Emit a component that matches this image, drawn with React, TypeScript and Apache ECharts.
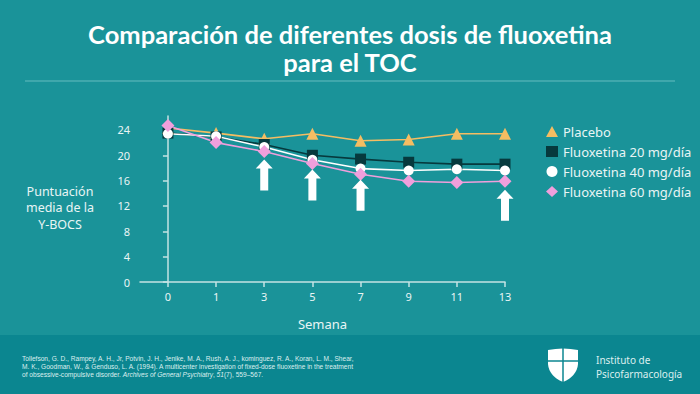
import React, { useEffect, useRef } from "react";
import * as echarts from "echarts";

const weekLabels = ["0", "1", "3", "5", "7", "9", "11", "13"];
const placebo = [24.3, 23.5, 22.6, 23.4, 22.3, 22.5, 23.4, 23.4];
const fluox20 = [23.5, 22.9, 21.7, 20.0, 19.4, 18.9, 18.6, 18.6];
const fluox40 = [23.4, 23.0, 21.3, 19.3, 17.9, 17.6, 17.8, 17.6];
const fluox60 = [24.7, 22.0, 20.6, 18.7, 17.0, 15.9, 15.7, 15.9];
const arrowIdx = [2, 3, 4, 7];
const arrowVals = [16.9, 15.3, 13.7, 12.1];
const yTicks = [0, 4, 8, 12, 16, 20, 24];
const seriesNames = ["Placebo", "Fluoxetina 20 mg/día", "Fluoxetina 40 mg/día", "Fluoxetina 60 mg/día"];

const BG = "#1a9399";
const FOOT = "#0b8690";
const TXT = "#e9f5f5";
const AX = "#c5e3e4";

const SHIELD = "M0,2 Q15,-1 30,2 L30,16 Q29,28 15,34 Q1,28 0,16 Z";
echarts.graphic.registerShape("shield", (echarts.graphic as any).extendPath(SHIELD, {}));

const ARROW = "path://M8.5,0 L17,9 L12.5,9 L12.5,31 L4.5,31 L4.5,9 L0,9 Z";

const toPts = (arr: number[]) => arr.map((v, i) => [i, v]);

export default function App() {
  const ref = useRef<HTMLDivElement>(null);
  useEffect(() => {
    const chart = echarts.init(ref.current!, null, { renderer: "svg" });
    const lineBase = (name: string, data: number[], color: string, symbol: string, size: number) => ({
      name,
      type: "line",
      data: toPts(data),
      symbol,
      symbolSize: size,
      lineStyle: { color, width: 1.6 },
      itemStyle: { color },
      z: 3,
    });
    chart.setOption({
      animation: false,
      backgroundColor: BG,
      textStyle: { fontFamily: "Noto Sans" },
      title: {
        text: "Comparación de diferentes dosis de fluoxetina\npara el TOC",
        left: "center",
        top: 15,
        textStyle: { color: "#ffffff", fontSize: 25.5, fontWeight: "bold", lineHeight: 28, fontFamily: "Lato" },
      },
      grid: { left: 140, right: 195, top: 116, bottom: 112 },
      legend: {
        orient: "vertical",
        left: 541,
        top: 120,
        itemWidth: 12,
        itemHeight: 11,
        itemGap: 7,
        textStyle: { color: TXT, fontSize: 13, fontFamily: "Noto Sans" },
        data: [
          { name: seriesNames[0], icon: "triangle" },
          { name: seriesNames[1], icon: "rect" },
          { name: seriesNames[2], icon: "circle" },
          { name: seriesNames[3], icon: "diamond" },
        ],
      },
      xAxis: {
        type: "value",
        min: -0.58,
        max: 7,
        splitLine: { show: false },
        axisLine: { show: true, lineStyle: { color: AX, width: 1.5 } },
        axisTick: { show: true, length: 5, customValues: [0, 1, 2, 3, 4, 5, 6, 7], lineStyle: { color: AX, width: 1.5 } },
        axisLabel: {
          customValues: [0, 1, 2, 3, 4, 5, 6, 7],
          formatter: (v: number) => weekLabels[Math.round(v)] ?? "",
          color: TXT,
          fontSize: 11,
          margin: 9,
        },
        name: "Semana",
        nameLocation: "middle",
        nameGap: 35,
        nameTextStyle: { color: TXT, fontSize: 13 },
      },
      yAxis: {
        type: "value",
        min: 0,
        max: 26.2,
        splitLine: { show: false },
        axisLine: { show: true, lineStyle: { color: AX, width: 1.5 } },
        axisTick: { show: true, length: 5, customValues: yTicks, lineStyle: { color: AX, width: 1.5 } },
        axisLabel: { customValues: yTicks, color: TXT, fontSize: 11, margin: 10 },
      },
      series: [
        lineBase(seriesNames[0], placebo, "#f5bd62", "triangle", 12),
        lineBase(seriesNames[1], fluox20, "#06393d", "rect", 11),
        lineBase(seriesNames[2], fluox40, "#ffffff", "circle", 10),
        lineBase(seriesNames[3], fluox60, "#f09fdc", "diamond", 13),
        {
          name: "arrows",
          type: "scatter",
          data: arrowIdx.map((i, k) => [i, arrowVals[k]]),
          symbol: ARROW,
          symbolSize: [17, 31],
          itemStyle: { color: "#ffffff", opacity: 1 },
          z: 5,
        },
      ],
      graphic: [
        { type: "line", shape: { x1: 25, y1: 81, x2: 675, y2: 81 }, style: { stroke: "#64bcbf", lineWidth: 1 } },
        {
          type: "text",
          x: 60,
          y: 183,
          style: {
            text: "Puntuación\nmedia de la\nY-BOCS",
            fill: TXT,
            font: "12.5px 'Noto Sans'",
            textAlign: "center",
            lineHeight: 16.5,
          },
        },
        { type: "rect", shape: { x: 0, y: 335, width: 700, height: 59 }, style: { fill: FOOT }, z: -1 },
        {
          type: "text",
          x: 22,
          y: 354,
          style: {
            text:
              "Tollefson, G. D., Rampey, A. H., Jr, Potvin, J. H., Jenike, M. A., Rush, A. J., kominguez, R. A., Koran, L. M., Shear,\n" +
              "M. K., Goodman, W., & Genduso, L. A. (1994). A multicenter investigation of fixed-dose fluoxetine in the treatment\n" +
              "of obsessive-compulsive disorder. {i|Archives of General Psychiatry}, {i|51}(7), 559–567.",
            fill: "#dcefef",
            font: "6.6px 'Liberation Sans'",
            lineHeight: 8,
            rich: { i: { fontStyle: "italic", fontSize: 6.6, fontFamily: "Liberation Sans", fill: "#dcefef" } },
          } as any,
        },
        { type: "shield", x: 548, y: 348, style: { fill: "#ffffff" } },
        { type: "line", shape: { x1: 563, y1: 346, x2: 563, y2: 384 }, style: { stroke: FOOT, lineWidth: 1.5 } },
        { type: "line", shape: { x1: 546, y1: 361, x2: 580, y2: 361 }, style: { stroke: FOOT, lineWidth: 1.5 } },
        {
          type: "text",
          x: 596,
          y: 353,
          style: { text: "Instituto de\nPsicofarmacología", fill: "#dcefef", font: "10px 'Noto Sans'", lineHeight: 14 },
        },
      ],
    });
    return () => chart.dispose();
  }, []);
  return <div ref={ref} style={{ position: "fixed", left: 0, top: 0, width: 700, height: 394 }} />;
}
